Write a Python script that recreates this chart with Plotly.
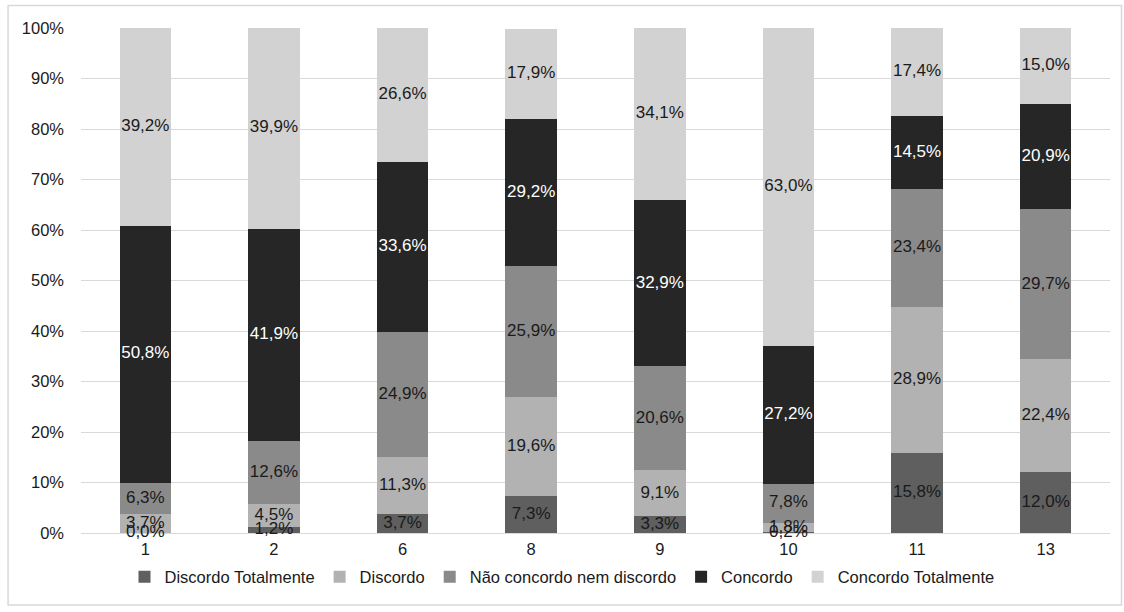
import plotly.graph_objects as go

categories = ["1", "2", "6", "8", "9", "10", "11", "13"]
series_names = ["Discordo Totalmente", "Discordo", "Não concordo nem discordo", "Concordo", "Concordo Totalmente"]
discordo_totalmente = [0.0, 1.2, 3.7, 7.3, 3.3, 0.2, 15.8, 12.0]
discordo = [3.7, 4.5, 11.3, 19.6, 9.1, 1.8, 28.9, 22.4]
nao_concordo = [6.3, 12.6, 24.9, 25.9, 20.6, 7.8, 23.4, 29.7]
concordo = [50.8, 41.9, 33.6, 29.2, 32.9, 27.2, 14.5, 20.9]
concordo_totalmente = [39.2, 39.9, 26.6, 17.9, 34.1, 63.0, 17.4, 15.0]
y_ticks = [0, 10, 20, 30, 40, 50, 60, 70, 80, 90, 100]

series_values = [discordo_totalmente, discordo, nao_concordo, concordo, concordo_totalmente]
colors = ["#5f5f5f", "#b2b2b2", "#8a8a8a", "#262626", "#d2d2d2"]
text_colors = ["#1a1a1a", "#1a1a1a", "#1a1a1a", "#ffffff", "#1a1a1a"]

FONT = "Liberation Sans, Arial, sans-serif"

fig = go.Figure()
for name, vals, col in zip(series_names, series_values, colors):
    fig.add_trace(go.Bar(
        x=categories, y=vals, name=name,
        marker=dict(color=col, line=dict(width=0)),
        hoverinfo="skip",
    ))

# data labels centred in each stacked segment
base = [0.0] * len(categories)
for vals, tcol in zip(series_values, text_colors):
    mids = [b + v / 2 for b, v in zip(base, vals)]
    fig.add_trace(go.Scatter(
        x=categories, y=mids, mode="text",
        text=[f"{v:.1f}%".replace(".", ",") for v in vals],
        textposition="middle center",
        textfont=dict(family=FONT, size=17, color=tcol),
        showlegend=False, hoverinfo="skip", cliponaxis=False,
    ))
    base = [b + v for b, v in zip(base, vals)]

x0, x1 = -73 / 1030, 1041.5 / 1030
y0, y1 = (533 - 605) / 505, (533 - 5.5) / 505

fig.update_layout(
    barmode="stack",
    bargap=0.6,
    width=1124, height=612,
    margin=dict(l=81, r=14, t=28, b=79, autoexpand=False),
    paper_bgcolor="white", plot_bgcolor="white",
    font=dict(family=FONT, size=16.5, color="#1a1a1a"),
    showlegend=True,
    legend=dict(orientation="h", xref="container", x=0.5, xanchor="center",
                yref="container", y=0.057, yanchor="middle",
                font=dict(family=FONT, size=16.5, color="#1a1a1a"),
                itemwidth=30, tracegroupgap=0, traceorder="normal"),
    xaxis=dict(type="category", showgrid=False, showline=False, ticks="",
               ticklabelstandoff=4, automargin=False,
               tickfont=dict(family=FONT, size=16.5, color="#1a1a1a")),
    yaxis=dict(range=[0, 100], tickvals=y_ticks,
               ticktext=[f"{t}%" for t in y_ticks],
               showgrid=True, gridcolor="#d9d9d9", gridwidth=1,
               zeroline=True, zerolinecolor="#d9d9d9", zerolinewidth=1,
               showline=False, ticks="", ticklabelstandoff=16, automargin=False,
               tickfont=dict(family=FONT, size=16.5, color="#1a1a1a")),
    shapes=[dict(type="rect", xref="paper", yref="paper",
                 x0=x0, x1=x1, y0=y0, y1=y1,
                 line=dict(color="#d9d9d9", width=1.5), layer="below")],
)

fig.write_html("out.html")
